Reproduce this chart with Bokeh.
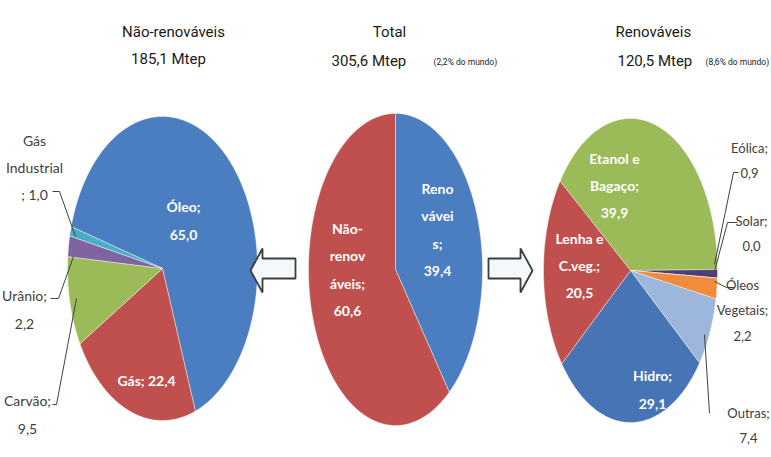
import numpy as np
from bokeh.plotting import figure
from bokeh.models import Range1d
from bokeh.core.properties import value
from bokeh.embed import file_html
from bokeh.resources import INLINE

# ---- data -------------------------------------------------------------
nonren_names = ["Óleo", "Gás", "Carvão", "Urânio", "Gás Industrial"]
nonren_values = [65.0, 22.4, 9.5, 2.2, 1.0]
nonren_colors = ["#4A7EC0", "#C0504D", "#9BBB59", "#8064A2", "#4BACC6"]

total_names = ["Renováveis", "Não-renováveis"]
total_values = [39.4, 60.6]
total_colors = ["#4A7EC0", "#C0504D"]

ren_names = ["Etanol e Bagaço", "Eólica", "Solar", "Óleos Vegetais",
             "Outras", "Hidro", "Lenha e C.veg."]
ren_values = [39.9, 0.9, 0.0, 2.2, 7.4, 29.1, 20.5]
ren_colors = ["#9BBB59", "#4F3F73", "#2C4D75", "#F08C3C",
              "#9CB6DC", "#4674B4", "#C0504D"]

titles = ["Não-renováveis", "Total", "Renováveis"]
totals_mtep = [185.1, 305.6, 120.5]
world_share = [None, 2.2, 8.6]

W, H = 771, 457
LABEL_FONT = value("Lato")
TITLE_FONT = value("Roboto")


def fmt(v):
    return f"{v:.1f}".replace(".", ",")


p = figure(width=W, height=H, x_range=Range1d(0, W), y_range=Range1d(H, 0),
           output_backend="svg", toolbar_location=None,
           x_axis_location=None, y_axis_location=None, min_border=0)
p.grid.visible = False
p.outline_line_color = None
p.background_fill_color = "white"


def draw_pie(values, colors, cx, cy, rx, ry, start_deg):
    """Elliptical pie, slices running clockwise from start_deg (0 = 12 o'clock)."""
    vals = np.asarray(values, dtype=float)
    frac = vals / vals.sum()
    bounds = start_deg + 360.0 * np.concatenate([[0.0], np.cumsum(frac)])
    xs, ys = [], []
    for a0, a1 in zip(bounds[:-1], bounds[1:]):
        n = max(int(abs(a1 - a0) * 2), 2)
        t = np.radians(np.linspace(a0, a1, n))
        xs.append([cx] + list(cx + rx * np.sin(t)) + [cx])
        ys.append([cy] + list(cy - ry * np.cos(t)) + [cy])
    p.patches(xs, ys, fill_color=colors, line_color="white",
              line_width=0.6, line_alpha=0.7)
    return bounds


def put(x, y, txt, size="14px", color="white", bold=True, align="center",
        font=LABEL_FONT, lh=1.6):
    p.text(x=[x], y=[y], text=[txt], text_color=color, text_font=font,
           text_font_size=size, text_font_style="bold" if bold else "normal",
           text_align=align, text_baseline="middle", text_line_height=lh)


# ---- pies -------------------------------------------------------------
draw_pie(nonren_values, nonren_colors, 162, 268, 95, 152, 286)
draw_pie(total_values, total_colors, 395, 269, 87, 156, 0)
draw_pie(ren_values, ren_colors, 630, 270, 87, 152, 306)

# ---- arrows -----------------------------------------------------------
arrow_fill, arrow_line = "#F5F8FB", "#3C3C3C"
p.patch([250, 262, 262, 295, 295, 262, 262],
        [270, 248, 258, 258, 278, 278, 292],
        fill_color=arrow_fill, line_color=arrow_line, line_width=1.8)
p.patch([532, 520, 520, 488, 488, 520, 520],
        [270, 248, 258, 258, 278, 278, 292],
        fill_color=arrow_fill, line_color=arrow_line, line_width=1.8)

# ---- titles -----------------------------------------------------------
ink = "#1A1A1A"
put(173, 31, titles[0], size="15px", color=ink, bold=False, font=TITLE_FONT)
put(168, 58, f"{fmt(totals_mtep[0])} Mtep", size="15px", color=ink,
    bold=False, font=TITLE_FONT)
put(389, 31, titles[1], size="15px", color=ink, bold=False, font=TITLE_FONT)
put(331, 60, f"{fmt(totals_mtep[1])} Mtep", size="15px", color=ink,
    bold=False, align="left", font=TITLE_FONT)
put(433, 61, f"({fmt(world_share[1])}% do mundo)", size="8.5px", color=ink,
    bold=False, align="left", font=TITLE_FONT)
put(615, 31, titles[2], size="15px", color=ink, bold=False, align="left",
    font=TITLE_FONT)
put(617, 60, f"{fmt(totals_mtep[2])}  Mtep", size="15px", color=ink,
    bold=False, align="left", font=TITLE_FONT)
put(705, 61, f"({fmt(world_share[2])}% do mundo)", size="8.5px", color=ink,
    bold=False, align="left", font=TITLE_FONT)

# ---- slice labels: non-renewables ------------------------------------
put(183, 220, f"{nonren_names[0]};\n{fmt(nonren_values[0])}")
put(146, 380, f"{nonren_names[1]}; {fmt(nonren_values[1])}")
grey = "#404040"
put(34, 167, f"Gás\nIndustrial\n; {fmt(nonren_values[4])}", color=grey, bold=False)
put(24, 309, f"{nonren_names[3]};\n{fmt(nonren_values[3])}", color=grey, bold=False)
put(27, 414, f"{nonren_names[2]};\n{fmt(nonren_values[2])}", color=grey, bold=False)
p.multi_line([[52, 59, 75], [50, 58, 73], [52, 56, 76]],
             [[191, 191, 236], [298, 298, 256], [404, 404, 298]],
             line_color=grey, line_width=1)

# ---- slice labels: total ---------------------------------------------
put(347, 269, f"Não-\nrenov\náveis;\n{fmt(total_values[1])}")
put(437, 229, f"Reno\nvávei\ns;\n{fmt(total_values[0])}")

# ---- slice labels: renewables ----------------------------------------
put(614, 185, f"Etanol e\nBagaço;\n{fmt(ren_values[0])}")
put(579, 265, f"Lenha e\nC.veg.;\n{fmt(ren_values[6])}")
put(652, 389, f"{ren_names[5]};\n{fmt(ren_values[5])}")
put(749, 160, f"{ren_names[1]};\n{fmt(ren_values[1])}", color=grey, bold=False,
    size="13px")
put(751, 233, f"{ren_names[2]};\n{fmt(ren_values[2])}", color=grey, bold=False,
    size="13px")
put(742, 310, f"Óleos\nVegetais;\n{fmt(ren_values[3])}", color=grey, bold=False,
    size="13px")
put(748, 425, f"{ren_names[4]};\n{fmt(ren_values[4])}", color=grey, bold=False,
    size="13px")
p.multi_line([[738, 733, 714], [737, 727, 714], [734, 726, 714], [709, 709, 704]],
             [[172, 172, 264], [222, 222, 271], [287, 287, 281], [413, 413, 334]],
             line_color=grey, line_width=1)

open("out.html", "w").write(file_html(p, INLINE))
